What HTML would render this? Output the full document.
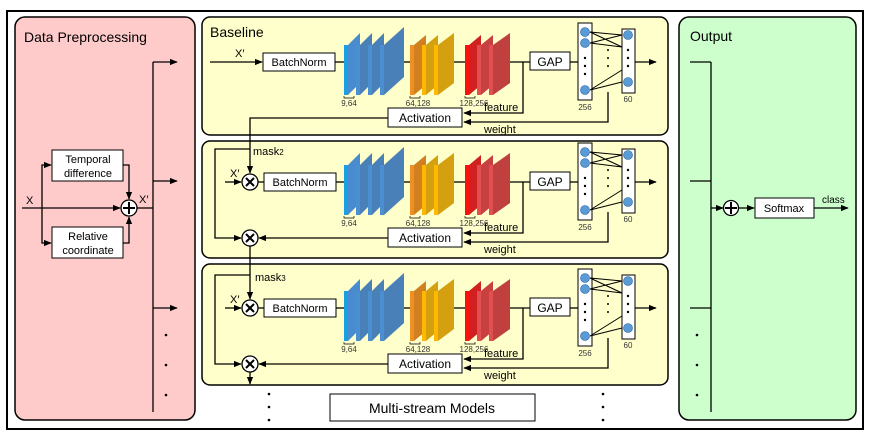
<!DOCTYPE html>
<html><head><meta charset="utf-8"><style>
html,body{margin:0;padding:0;background:#fff}
svg{display:block;font-family:"Liberation Sans",sans-serif}
</style></head><body>
<svg width="872" height="438" viewBox="0 0 872 438" xmlns="http://www.w3.org/2000/svg">
<defs>
<marker id="a" viewBox="0 0 10 10" refX="9" refY="5" markerWidth="6" markerHeight="6" orient="auto"><path d="M0,1 L10,5 L0,9z" fill="#000"/></marker>
</defs>
<rect x="7" y="11" width="856" height="418" fill="#fff" stroke="#000" stroke-width="2"/>
<!-- panels -->
<rect x="15" y="17" width="180" height="403" rx="10" fill="#ffcaca" stroke="#000" stroke-width="1.5"/>
<rect x="679" y="17" width="177" height="403" rx="10" fill="#ccffcc" stroke="#000" stroke-width="1.5"/>
<rect x="202" y="17" width="466" height="118" rx="8" fill="#ffffcc" stroke="#000" stroke-width="1.5"/>
<rect x="202" y="141" width="466" height="117" rx="8" fill="#ffffcc" stroke="#000" stroke-width="1.5"/>
<rect x="202" y="264" width="466" height="121" rx="8" fill="#ffffcc" stroke="#000" stroke-width="1.5"/>
<g font-size="14"><text x="24" y="42">Data Preprocessing</text><text x="210" y="37">Baseline</text><text x="690" y="41">Output</text></g>

<!-- preprocessing -->
<g stroke="#000" stroke-width="1.3" fill="none">
<line x1="22" y1="208" x2="120" y2="208" marker-end="url(#a)"/>
<polyline points="42,208 42,165 51,165" marker-end="url(#a)"/>
<polyline points="42,208 42,243 51,243" marker-end="url(#a)"/>
<polyline points="123,165 129,165 129,199" marker-end="url(#a)"/>
<polyline points="123,243 129,243 129,217" marker-end="url(#a)"/>
<line x1="137" y1="208" x2="153" y2="208"/>
<line x1="153" y1="62" x2="153" y2="412"/>
<line x1="153" y1="62" x2="177" y2="62" marker-end="url(#a)"/>
<line x1="153" y1="181" x2="177" y2="181" marker-end="url(#a)"/>
<line x1="153" y1="308" x2="177" y2="308" marker-end="url(#a)"/>
</g>
<rect x="52" y="150" width="71" height="31" fill="#fff" stroke="#000"/>
<rect x="52" y="227" width="71" height="31" fill="#fff" stroke="#000"/>
<circle cx="129" cy="208" r="8" fill="#fff" stroke="#000" stroke-width="1.3"/>
<path d="M123,208h12M129,202v12" stroke="#000" stroke-width="2"/>
<g font-size="11" text-anchor="middle"><text x="88" y="163">Temporal</text><text x="88" y="177">difference</text><text x="88" y="240">Relative</text><text x="88" y="254">coordinate</text></g>
<text x="26" y="204" font-size="11">X</text><text x="139" y="203" font-size="11">X′</text>
<g fill="#000"><circle cx="166" cy="335" r="1.3"/><circle cx="166" cy="365" r="1.3"/><circle cx="166" cy="395" r="1.3"/></g>

<!-- output -->
<g stroke="#000" stroke-width="1.3" fill="none">
<line x1="711" y1="62" x2="711" y2="412"/>
<line x1="690" y1="62" x2="711" y2="62"/><line x1="690" y1="181" x2="711" y2="181"/><line x1="690" y1="308" x2="711" y2="308"/>
<line x1="711" y1="208" x2="723" y2="208" marker-end="url(#a)"/>
<line x1="739" y1="208" x2="754" y2="208" marker-end="url(#a)"/>
<line x1="814" y1="208" x2="848" y2="208" marker-end="url(#a)"/>
</g>
<circle cx="731" cy="208" r="7.5" fill="#fff" stroke="#000" stroke-width="1.3"/>
<path d="M725,208h12M731,202v12" stroke="#000" stroke-width="2"/>
<rect x="755" y="198" width="59" height="20" fill="#fff" stroke="#000"/>
<text x="784" y="212" font-size="11" text-anchor="middle">Softmax</text>
<text x="822" y="203" font-size="10">class</text>
<g fill="#000"><circle cx="697" cy="335" r="1.3"/><circle cx="697" cy="365" r="1.3"/><circle cx="697" cy="395" r="1.3"/></g>

<!-- stream template repeated -->
<g id="s1">
<g stroke="#000" stroke-width="1.3" fill="none">
<line x1="335" y1="62" x2="344" y2="62"/><line x1="400" y1="62" x2="410" y2="62"/><line x1="450" y1="62" x2="465" y2="62"/>
<line x1="506" y1="62" x2="530" y2="62"/><line x1="570" y1="62" x2="578" y2="62"/><line x1="635" y1="62" x2="656" y2="62" marker-end="url(#a)"/>
<polyline points="523,62 523,113 464,113" marker-end="url(#a)"/>
<polyline points="608,92 608,122 464,122" marker-end="url(#a)"/>
</g>
<g>
<rect x="344" y="45" width="4" height="50" fill="#1a9fe0"/><polygon points="348,45 360,33 360,83 348,95" fill="#4a8ad0"/>
<rect x="356" y="45" width="4" height="50" fill="#4a90d0"/><polygon points="360,45 372,33 372,83 360,95" fill="#4a80b8"/>
<rect x="368" y="45" width="4" height="50" fill="#4a90d0"/><polygon points="372,45 384,33 384,83 372,95" fill="#4a80b8"/>
<rect x="380" y="45" width="4" height="50" fill="#4a90d0"/><polygon points="384,45 404,27 404,77 384,95" fill="#4a80b8"/>
<rect x="410" y="45" width="4" height="50" fill="#f09020"/><polygon points="414,45 426,35 426,85 414,95" fill="#d08020"/>
<rect x="422" y="45" width="4" height="50" fill="#ffb800"/><polygon points="426,45 438,35 438,85 426,95" fill="#d4a010"/>
<rect x="434" y="45" width="4" height="50" fill="#ffb800"/><polygon points="438,45 454,33 454,83 438,95" fill="#d4a010"/>
<rect x="465" y="45" width="4" height="50" fill="#ff1010"/><polygon points="469,45 481,35 481,85 469,95" fill="#d02020"/>
<rect x="477" y="45" width="4" height="50" fill="#e05050"/><polygon points="481,45 493,35 493,85 481,95" fill="#c84040"/>
<rect x="489" y="45" width="4" height="50" fill="#e05050"/><polygon points="493,45 510,33 510,83 493,95" fill="#c04040"/>
</g>
<g stroke="#000" stroke-width="0.7" fill="none"><path d="M344,96v2h10v-2M410,96v2h10v-2M465,96v2h10v-2"/></g>
<g font-size="8" fill="#333" text-anchor="middle"><text x="349" y="106">9,64</text><text x="418" y="106">64,128</text><text x="474" y="106">128,256</text><text x="585" y="110">256</text><text x="628" y="102">60</text></g>
<rect x="263" y="53" width="72" height="18" fill="#fff" stroke="#000"/>
<text x="299" y="66" font-size="11" text-anchor="middle">BatchNorm</text>
<rect x="530" y="52" width="40" height="18" fill="#fff" stroke="#000"/>
<text x="550" y="66" font-size="12" text-anchor="middle">GAP</text>
<rect x="578" y="23" width="14" height="77" fill="#fff" stroke="#000"/>
<rect x="622" y="29" width="13" height="64" fill="#fff" stroke="#000"/>
<g stroke="#000" stroke-width="1"><path d="M590,32L622,35M590,32L622,47M590,43L622,35M590,43L622,47M590,90L622,70M590,90L622,82"/></g>
<g fill="#5b9bd5" stroke="#2060a0" stroke-width="0.6"><circle cx="585" cy="32" r="4.5"/><circle cx="585" cy="43" r="4.5"/><circle cx="585" cy="90" r="4.5"/><circle cx="628" cy="35" r="4.5"/><circle cx="628" cy="82" r="4.5"/></g>
<g fill="#000"><circle cx="585" cy="58" r="1.2"/><circle cx="585" cy="66" r="1.2"/><circle cx="585" cy="74" r="1.2"/><circle cx="628" cy="50" r="1.2"/><circle cx="628" cy="58" r="1.2"/><circle cx="628" cy="66" r="1.2"/><circle cx="608" cy="50" r="1"/><circle cx="608" cy="58" r="1"/><circle cx="608" cy="66" r="1"/></g>
<rect x="388" y="108" width="74" height="19" fill="#fff" stroke="#000"/>
<text x="425" y="122" font-size="12" text-anchor="middle">Activation</text>
<text x="484" y="111" font-size="11">feature</text>
<text x="484" y="133" font-size="11">weight</text>
</g>
<g transform="translate(0,120)">
<g stroke="#000" stroke-width="1.3" fill="none">
<line x1="335" y1="62" x2="344" y2="62"/><line x1="400" y1="62" x2="410" y2="62"/><line x1="450" y1="62" x2="465" y2="62"/>
<line x1="506" y1="62" x2="530" y2="62"/><line x1="570" y1="62" x2="578" y2="62"/><line x1="635" y1="62" x2="656" y2="62" marker-end="url(#a)"/>
<polyline points="523,62 523,113 464,113" marker-end="url(#a)"/>
<polyline points="608,92 608,122 464,122" marker-end="url(#a)"/>
</g>
<g>
<rect x="344" y="45" width="4" height="50" fill="#1a9fe0"/><polygon points="348,45 360,33 360,83 348,95" fill="#4a8ad0"/>
<rect x="356" y="45" width="4" height="50" fill="#4a90d0"/><polygon points="360,45 372,33 372,83 360,95" fill="#4a80b8"/>
<rect x="368" y="45" width="4" height="50" fill="#4a90d0"/><polygon points="372,45 384,33 384,83 372,95" fill="#4a80b8"/>
<rect x="380" y="45" width="4" height="50" fill="#4a90d0"/><polygon points="384,45 404,27 404,77 384,95" fill="#4a80b8"/>
<rect x="410" y="45" width="4" height="50" fill="#f09020"/><polygon points="414,45 426,35 426,85 414,95" fill="#d08020"/>
<rect x="422" y="45" width="4" height="50" fill="#ffb800"/><polygon points="426,45 438,35 438,85 426,95" fill="#d4a010"/>
<rect x="434" y="45" width="4" height="50" fill="#ffb800"/><polygon points="438,45 454,33 454,83 438,95" fill="#d4a010"/>
<rect x="465" y="45" width="4" height="50" fill="#ff1010"/><polygon points="469,45 481,35 481,85 469,95" fill="#d02020"/>
<rect x="477" y="45" width="4" height="50" fill="#e05050"/><polygon points="481,45 493,35 493,85 481,95" fill="#c84040"/>
<rect x="489" y="45" width="4" height="50" fill="#e05050"/><polygon points="493,45 510,33 510,83 493,95" fill="#c04040"/>
</g>
<g stroke="#000" stroke-width="0.7" fill="none"><path d="M344,96v2h10v-2M410,96v2h10v-2M465,96v2h10v-2"/></g>
<g font-size="8" fill="#333" text-anchor="middle"><text x="349" y="106">9,64</text><text x="418" y="106">64,128</text><text x="474" y="106">128,256</text><text x="585" y="110">256</text><text x="628" y="102">60</text></g>
<rect x="264" y="53" width="72" height="18" fill="#fff" stroke="#000"/>
<text x="300" y="66" font-size="11" text-anchor="middle">BatchNorm</text>
<rect x="530" y="52" width="40" height="18" fill="#fff" stroke="#000"/>
<text x="550" y="66" font-size="12" text-anchor="middle">GAP</text>
<rect x="578" y="23" width="14" height="77" fill="#fff" stroke="#000"/>
<rect x="622" y="29" width="13" height="64" fill="#fff" stroke="#000"/>
<g stroke="#000" stroke-width="1"><path d="M590,32L622,35M590,32L622,47M590,43L622,35M590,43L622,47M590,90L622,70M590,90L622,82"/></g>
<g fill="#5b9bd5" stroke="#2060a0" stroke-width="0.6"><circle cx="585" cy="32" r="4.5"/><circle cx="585" cy="43" r="4.5"/><circle cx="585" cy="90" r="4.5"/><circle cx="628" cy="35" r="4.5"/><circle cx="628" cy="82" r="4.5"/></g>
<g fill="#000"><circle cx="585" cy="58" r="1.2"/><circle cx="585" cy="66" r="1.2"/><circle cx="585" cy="74" r="1.2"/><circle cx="628" cy="50" r="1.2"/><circle cx="628" cy="58" r="1.2"/><circle cx="628" cy="66" r="1.2"/><circle cx="608" cy="50" r="1"/><circle cx="608" cy="58" r="1"/><circle cx="608" cy="66" r="1"/></g>
<rect x="388" y="108" width="74" height="19" fill="#fff" stroke="#000"/>
<text x="425" y="122" font-size="12" text-anchor="middle">Activation</text>
<text x="484" y="111" font-size="11">feature</text>
<text x="484" y="133" font-size="11">weight</text>
</g>
<g transform="translate(0,246)">
<g stroke="#000" stroke-width="1.3" fill="none">
<line x1="335" y1="62" x2="344" y2="62"/><line x1="400" y1="62" x2="410" y2="62"/><line x1="450" y1="62" x2="465" y2="62"/>
<line x1="506" y1="62" x2="530" y2="62"/><line x1="570" y1="62" x2="578" y2="62"/><line x1="635" y1="62" x2="656" y2="62" marker-end="url(#a)"/>
<polyline points="523,62 523,113 464,113" marker-end="url(#a)"/>
<polyline points="608,92 608,122 464,122" marker-end="url(#a)"/>
</g>
<g>
<rect x="344" y="45" width="4" height="50" fill="#1a9fe0"/><polygon points="348,45 360,33 360,83 348,95" fill="#4a8ad0"/>
<rect x="356" y="45" width="4" height="50" fill="#4a90d0"/><polygon points="360,45 372,33 372,83 360,95" fill="#4a80b8"/>
<rect x="368" y="45" width="4" height="50" fill="#4a90d0"/><polygon points="372,45 384,33 384,83 372,95" fill="#4a80b8"/>
<rect x="380" y="45" width="4" height="50" fill="#4a90d0"/><polygon points="384,45 404,27 404,77 384,95" fill="#4a80b8"/>
<rect x="410" y="45" width="4" height="50" fill="#f09020"/><polygon points="414,45 426,35 426,85 414,95" fill="#d08020"/>
<rect x="422" y="45" width="4" height="50" fill="#ffb800"/><polygon points="426,45 438,35 438,85 426,95" fill="#d4a010"/>
<rect x="434" y="45" width="4" height="50" fill="#ffb800"/><polygon points="438,45 454,33 454,83 438,95" fill="#d4a010"/>
<rect x="465" y="45" width="4" height="50" fill="#ff1010"/><polygon points="469,45 481,35 481,85 469,95" fill="#d02020"/>
<rect x="477" y="45" width="4" height="50" fill="#e05050"/><polygon points="481,45 493,35 493,85 481,95" fill="#c84040"/>
<rect x="489" y="45" width="4" height="50" fill="#e05050"/><polygon points="493,45 510,33 510,83 493,95" fill="#c04040"/>
</g>
<g stroke="#000" stroke-width="0.7" fill="none"><path d="M344,96v2h10v-2M410,96v2h10v-2M465,96v2h10v-2"/></g>
<g font-size="8" fill="#333" text-anchor="middle"><text x="349" y="106">9,64</text><text x="418" y="106">64,128</text><text x="474" y="106">128,256</text><text x="585" y="110">256</text><text x="628" y="102">60</text></g>
<rect x="264" y="53" width="72" height="18" fill="#fff" stroke="#000"/>
<text x="300" y="66" font-size="11" text-anchor="middle">BatchNorm</text>
<rect x="530" y="52" width="40" height="18" fill="#fff" stroke="#000"/>
<text x="550" y="66" font-size="12" text-anchor="middle">GAP</text>
<rect x="578" y="23" width="14" height="77" fill="#fff" stroke="#000"/>
<rect x="622" y="29" width="13" height="64" fill="#fff" stroke="#000"/>
<g stroke="#000" stroke-width="1"><path d="M590,32L622,35M590,32L622,47M590,43L622,35M590,43L622,47M590,90L622,70M590,90L622,82"/></g>
<g fill="#5b9bd5" stroke="#2060a0" stroke-width="0.6"><circle cx="585" cy="32" r="4.5"/><circle cx="585" cy="43" r="4.5"/><circle cx="585" cy="90" r="4.5"/><circle cx="628" cy="35" r="4.5"/><circle cx="628" cy="82" r="4.5"/></g>
<g fill="#000"><circle cx="585" cy="58" r="1.2"/><circle cx="585" cy="66" r="1.2"/><circle cx="585" cy="74" r="1.2"/><circle cx="628" cy="50" r="1.2"/><circle cx="628" cy="58" r="1.2"/><circle cx="628" cy="66" r="1.2"/><circle cx="608" cy="50" r="1"/><circle cx="608" cy="58" r="1"/><circle cx="608" cy="66" r="1"/></g>
<rect x="388" y="108" width="74" height="19" fill="#fff" stroke="#000"/>
<text x="425" y="122" font-size="12" text-anchor="middle">Activation</text>
<text x="484" y="111" font-size="11">feature</text>
<text x="484" y="133" font-size="11">weight</text>
</g>

<!-- stream-specific connections -->
<g stroke="#000" stroke-width="1.3" fill="none">
<line x1="210" y1="62" x2="262" y2="62" marker-end="url(#a)"/>
<polyline points="388,118 250,118 250,173" marker-end="url(#a)"/>
<polyline points="250,149 215,149 215,238 241,238" marker-end="url(#a)"/>
<line x1="225" y1="182" x2="241" y2="182" marker-end="url(#a)"/>
<line x1="257" y1="182" x2="264" y2="182"/>
<line x1="388" y1="238" x2="259" y2="238" marker-end="url(#a)"/>
<line x1="250" y1="246" x2="250" y2="299" marker-end="url(#a)"/>
<polyline points="250,275 215,275 215,364 241,364" marker-end="url(#a)"/>
<line x1="225" y1="308" x2="241" y2="308" marker-end="url(#a)"/>
<line x1="257" y1="308" x2="264" y2="308"/>
<line x1="388" y1="364" x2="259" y2="364" marker-end="url(#a)"/>
<line x1="250" y1="372" x2="250" y2="384" marker-end="url(#a)"/>
</g>
<g fill="#fff" stroke="#000" stroke-width="1.3">
<circle cx="250" cy="182" r="8"/><circle cx="250" cy="238" r="8"/><circle cx="250" cy="308" r="8"/><circle cx="250" cy="364" r="8"/>
</g>
<g stroke="#000" stroke-width="2"><path d="M246,178l8,8M254,178l-8,8M246,234l8,8M254,234l-8,8M246,304l8,8M254,304l-8,8M246,360l8,8M254,360l-8,8"/></g>
<g font-size="11"><text x="235" y="57">X′</text><text x="230" y="177">X′</text><text x="230" y="303">X′</text>
<text x="253" y="155">mask<tspan font-size="8">2</tspan></text><text x="255" y="281">mask<tspan font-size="8">3</tspan></text></g>

<!-- bottom -->
<rect x="330" y="394" width="205" height="27" fill="#fff" stroke="#000"/>
<text x="432" y="413" font-size="14" text-anchor="middle">Multi-stream Models</text>
<g fill="#000"><circle cx="269" cy="394" r="1.3"/><circle cx="269" cy="407" r="1.3"/><circle cx="269" cy="420" r="1.3"/><circle cx="603" cy="394" r="1.3"/><circle cx="603" cy="407" r="1.3"/><circle cx="603" cy="420" r="1.3"/></g>
</svg>
</body></html>
